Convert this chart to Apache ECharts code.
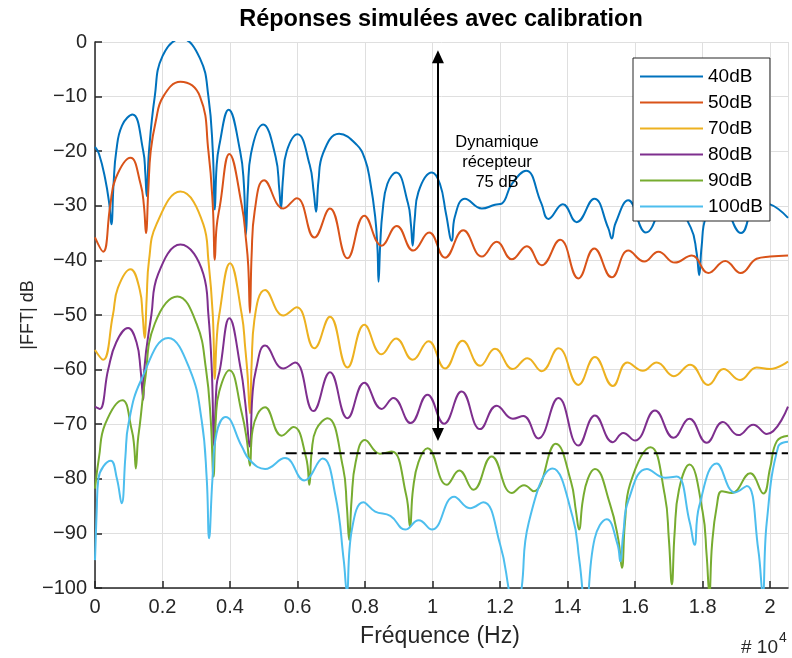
<!DOCTYPE html>
<html><head><meta charset="utf-8">
<script src="https://cdn.jsdelivr.net/npm/echarts@6/dist/echarts.min.js"></script>
<style>html,body{margin:0;padding:0;background:#fff}#c{width:792px;height:658px}</style>
</head><body><div id="c"></div>
<script>
const seriesNames = ['40dB','50dB','70dB','80dB','90dB','100dB'];
const seriesColors = ['#0072BD','#D95319','#EDB120','#7E2F8E','#77AC30','#4DBEEE'];
const xTicks = [0,0.2,0.4,0.6,0.8,1,1.2,1.4,1.6,1.8,2];
const yTicks = [0,-10,-20,-30,-40,-50,-60,-70,-80,-90,-100];

const s40 = [[0,-19.2],[0.012,-20.5],[0.03,-25],[0.042,-29.5],[0.0485,-33.4],[0.055,-26],[0.063,-20],[0.08,-15.3],[0.111,-13.3],[0.143,-20],[0.149,-24],[0.153,-28.2],[0.16,-20],[0.177,-10],[0.2,-2.6],[0.256,0.6],[0.311,-3],[0.336,-10],[0.349,-20],[0.355,-30.7],[0.36,-23],[0.368,-19],[0.396,-12.4],[0.43,-20],[0.441,-26],[0.447,-35.3],[0.453,-27],[0.462,-20.5],[0.498,-15.1],[0.535,-21],[0.546,-27],[0.551,-30.5],[0.557,-25],[0.568,-20],[0.6,-16.9],[0.636,-22.5],[0.648,-27.5],[0.655,-31.1],[0.662,-25.5],[0.675,-20.5],[0.723,-16.8],[0.775,-18.8],[0.8,-21.5],[0.815,-25.5],[0.83,-32],[0.837,-38],[0.84,-43.9],[0.845,-37],[0.852,-31],[0.866,-26],[0.892,-23.9],[0.927,-29.5],[0.936,-33.5],[0.941,-37.3],[0.947,-32.5],[0.958,-27.5],[0.998,-23.9],[1.022,-26],[1.04,-31.5],[1.057,-36.4],[1.066,-32],[1.096,-28.7],[1.146,-30.5],[1.185,-29.8],[1.205,-29.6],[1.235,-26],[1.277,-23.6],[1.322,-29.5],[1.343,-32.4],[1.386,-29.7],[1.427,-33],[1.479,-28.7],[1.52,-34],[1.531,-36],[1.542,-33.2],[1.58,-29],[1.632,-34.9],[1.7,-28.3],[1.765,-34],[1.782,-38.5],[1.79,-42.7],[1.797,-37.5],[1.81,-32],[1.85,-29],[1.914,-35],[1.96,-29.3],[1.995,-29.6],[2.053,-32.2]];

const s50 = [[0,-35.8],[0.024,-38.4],[0.045,-30],[0.061,-25],[0.105,-21.2],[0.135,-26],[0.145,-30],[0.151,-35],[0.158,-27],[0.165,-20],[0.18,-14.5],[0.202,-10],[0.253,-7.3],[0.311,-10],[0.336,-20],[0.349,-30],[0.355,-39.9],[0.36,-34],[0.37,-30],[0.398,-20.5],[0.435,-30],[0.447,-36],[0.454,-41],[0.459,-49.6],[0.464,-39],[0.473,-31],[0.501,-25.3],[0.558,-30.5],[0.598,-28.6],[0.65,-35.8],[0.696,-30.5],[0.748,-39.6],[0.798,-31.8],[0.849,-37.3],[0.894,-33.7],[0.943,-38.2],[0.99,-34.9],[1.037,-39.5],[1.091,-34.5],[1.146,-39.3],[1.19,-36.6],[1.235,-39.8],[1.279,-37.4],[1.323,-40.9],[1.378,-36.2],[1.432,-43.3],[1.479,-37.8],[1.531,-43.1],[1.58,-38.2],[1.627,-40.2],[1.669,-38.4],[1.718,-40.4],[1.768,-39.1],[1.817,-42.3],[1.867,-40.1],[1.913,-42.3],[1.96,-39.7],[2.0,-39.3],[2.053,-39.1]];

const s70 = [[0,-56.4],[0.024,-58.2],[0.053,-50],[0.068,-45],[0.105,-41.6],[0.133,-45.5],[0.141,-50],[0.147,-54.2],[0.153,-47],[0.16,-40],[0.182,-33.4],[0.253,-27.4],[0.321,-33.4],[0.336,-40],[0.349,-50],[0.355,-61.7],[0.36,-55],[0.368,-50],[0.4,-40.5],[0.435,-50],[0.445,-56],[0.452,-61],[0.459,-68],[0.464,-59],[0.472,-51],[0.504,-45.4],[0.558,-50.1],[0.598,-48.6],[0.65,-56.1],[0.696,-50.3],[0.748,-59.6],[0.798,-51.8],[0.849,-57.2],[0.892,-54.3],[0.941,-58.2],[0.988,-54.8],[1.037,-59.8],[1.089,-54.7],[1.141,-59.3],[1.185,-56.2],[1.238,-59.9],[1.281,-57.9],[1.323,-60.3],[1.373,-56.1],[1.432,-62.8],[1.481,-57.7],[1.534,-63],[1.577,-58.7],[1.623,-60.2],[1.664,-58.7],[1.715,-61.2],[1.763,-59.1],[1.817,-62.8],[1.862,-59.9],[1.911,-61.9],[1.96,-59.6],[2.0,-59.9],[2.053,-58.5]];

const s80 = [[0,-66.8],[0.014,-67.2],[0.039,-60],[0.063,-55],[0.098,-52.4],[0.123,-55],[0.135,-60],[0.143,-65.5],[0.146,-60],[0.167,-50],[0.187,-42.5],[0.253,-37.1],[0.321,-42.5],[0.336,-50],[0.346,-60],[0.353,-74],[0.36,-63],[0.37,-60],[0.398,-50.6],[0.432,-60],[0.445,-66],[0.459,-74.1],[0.466,-65],[0.477,-60],[0.504,-55.6],[0.558,-59.8],[0.593,-58.7],[0.647,-67.6],[0.696,-60.5],[0.748,-68.9],[0.798,-62.4],[0.849,-67.2],[0.884,-65.2],[0.935,-69.8],[0.985,-64.6],[1.034,-69.9],[1.086,-64],[1.141,-70.9],[1.19,-66.6],[1.238,-69],[1.269,-68.5],[1.313,-72.6],[1.373,-65.2],[1.432,-73.9],[1.481,-68.4],[1.534,-73.3],[1.565,-71.6],[1.6,-73],[1.659,-67.5],[1.714,-72.5],[1.761,-69],[1.812,-73.4],[1.86,-69.6],[1.906,-72],[1.95,-70.1],[1.99,-71.8],[2.053,-66.8]];

const s90 = [[0,-81.8],[0.012,-76],[0.03,-70],[0.081,-65.6],[0.109,-71.1],[0.116,-74],[0.121,-78.1],[0.127,-73],[0.133,-70],[0.148,-62],[0.177,-51.6],[0.244,-46.6],[0.301,-51.6],[0.329,-60],[0.343,-69.3],[0.351,-79.6],[0.358,-69],[0.368,-64],[0.398,-60.1],[0.435,-68],[0.45,-73],[0.459,-77.6],[0.467,-71],[0.504,-66.9],[0.553,-72.1],[0.588,-70.5],[0.625,-76],[0.635,-81.1],[0.642,-75],[0.655,-71],[0.689,-68.9],[0.735,-78],[0.746,-85],[0.753,-91.2],[0.76,-84],[0.772,-77],[0.8,-72.9],[0.844,-75.4],[0.879,-75],[0.922,-83],[0.933,-88.7],[0.942,-82],[0.958,-77],[0.985,-74.4],[1.042,-81.1],[1.079,-78.5],[1.121,-82],[1.175,-75.9],[1.235,-82.6],[1.271,-81.2],[1.3,-82.3],[1.365,-73.6],[1.41,-80.5],[1.425,-86],[1.434,-89.3],[1.445,-84],[1.46,-80],[1.481,-78.2],[1.525,-84.5],[1.55,-91],[1.561,-96.3],[1.57,-88],[1.585,-81],[1.646,-74.2],[1.688,-83],[1.7,-91],[1.709,-99.3],[1.717,-90],[1.73,-82],[1.761,-77.4],[1.8,-86],[1.812,-94],[1.82,-101],[1.828,-92],[1.842,-85],[1.857,-82.3],[1.886,-82.6],[1.941,-79],[1.98,-82.7],[2.0,-78],[2.02,-73.1],[2.053,-72.1]];

const s100 = [[0,-94.9],[0.005,-86],[0.01,-80],[0.047,-76.7],[0.065,-80],[0.079,-84.5],[0.09,-76],[0.099,-70],[0.136,-62],[0.217,-54.2],[0.281,-60],[0.316,-69.3],[0.331,-80],[0.338,-90.9],[0.348,-80],[0.36,-71.7],[0.387,-68.7],[0.435,-74.1],[0.459,-76.6],[0.504,-78.2],[0.563,-76.2],[0.62,-80.3],[0.674,-76.3],[0.712,-83],[0.737,-95],[0.746,-100.5],[0.761,-89.3],[0.795,-84.3],[0.83,-86],[0.875,-86.8],[0.919,-89.3],[0.959,-87.6],[0.998,-89.3],[1.064,-83.3],[1.111,-85.4],[1.15,-84.3],[1.2,-92],[1.225,-100],[1.245,-108],[1.264,-100],[1.285,-88],[1.356,-78.1],[1.415,-87],[1.435,-95],[1.454,-104],[1.48,-91],[1.516,-87.4],[1.548,-92],[1.556,-95.1],[1.565,-90],[1.58,-84],[1.635,-78.2],[1.689,-79.8],[1.723,-79.6],[1.762,-88],[1.776,-92.1],[1.79,-85],[1.842,-77.2],[1.896,-82.5],[1.931,-81.3],[1.965,-93],[1.978,-101],[1.99,-88],[2.024,-74.1],[2.053,-73.2]];

const curves = [s40, s50, s70, s80, s90, s100];
const dynamicArrow = {x: 1.016, top: -2.7, bottom: -71.9};
const floorLine = [[0.565, -75.3], [2.053, -75.3]];
const annotationText = 'Dynamique\nrécepteur\n75 dB';

const FONT = '"Liberation Sans", Arial, Helvetica, sans-serif';
const AX = '#262626';

const series = curves.map((d, i) => ({
  name: seriesNames[i], type: 'line', data: d, symbol: 'none', smooth: 0.45,
  lineStyle: {width: 2, color: seriesColors[i]}, itemStyle: {color: seriesColors[i]},
  clip: true, z: 3
}));
series.push({
  name: 'floor', type: 'line', data: floorLine, symbol: 'none', silent: true,
  lineStyle: {color: '#000', width: 2, type: [11, 5]}, z: 4
});
series.push({
  name: 'arrow', type: 'line', data: [], silent: true, z: 5,
  markLine: {
    silent: true, symbol: ['triangle', 'triangle'], symbolSize: [12, 13],
    lineStyle: {color: '#000', width: 2, type: 'solid'},
    itemStyle: {color: '#000'},
    label: {show: false}, emphasis: {disabled: true},
    data: [[{coord: [dynamicArrow.x, dynamicArrow.top]}, {coord: [dynamicArrow.x, dynamicArrow.bottom]}]]
  }
});

const chart = echarts.init(document.getElementById('c'), null, {renderer: 'canvas'});
chart.setOption({
  animation: false,
  backgroundColor: '#fff',
  grid: {left: 95, right: 4, top: 42, bottom: 70, containLabel: false},
  xAxis: {
    type: 'value', min: 0, max: 2.053, interval: 0.2,
    axisLine: {show: true, onZero: false, lineStyle: {color: AX, width: 1.5}},
    axisTick: {show: true, inside: true, length: 7, lineStyle: {color: AX, width: 1.5}},
    axisLabel: {color: AX, fontSize: 20, fontFamily: FONT, margin: 9, showMaxLabel: false,
      formatter: v => xTicks.some(t => Math.abs(t - v) < 1e-6) ? String(+v.toFixed(1)) : ''},
    splitLine: {show: true, lineStyle: {color: '#dfdfdf', width: 1}}
  },
  yAxis: {
    type: 'value', min: -100, max: 0, interval: 10,
    axisLine: {show: true, onZero: false, lineStyle: {color: AX, width: 1.5}},
    axisTick: {show: true, inside: true, length: 7, lineStyle: {color: AX, width: 1.5}},
    axisLabel: {color: AX, fontSize: 20, fontFamily: FONT, margin: 8,
      formatter: v => yTicks.includes(Math.round(v)) ? String(Math.round(v)).replace('-', '\u2212') : ''},
    splitLine: {show: true, lineStyle: {color: '#dfdfdf', width: 1}}
  },
  legend: {
    data: seriesNames, orient: 'vertical', left: 633, top: 58,
    icon: 'path://M0,0h63v2h-63z',
    itemWidth: 63, itemHeight: 20, itemGap: 7,
    padding: [9, 7, 5, 7],
    backgroundColor: '#fff', borderColor: AX, borderWidth: 1,
    textStyle: {fontSize: 19, fontFamily: FONT, color: '#000'},
    selectedMode: false
  },
  series: series,
  graphic: [
    {type: 'text', x: 441, y: 20, silent: true, style: {text: 'Réponses simulées avec calibration', fontSize: 23.5, fontWeight: 'bold', fontFamily: FONT, fill: '#000', align: 'center', verticalAlign: 'middle'}},
    {type: 'text', x: 440, y: 637, silent: true, style: {text: 'Fréquence (Hz)', fontSize: 23, fontFamily: FONT, fill: AX, align: 'center', verticalAlign: 'middle'}},
    {type: 'text', x: 28, y: 315, rotation: Math.PI / 2, silent: true, style: {text: '|FFT| dB', fontSize: 18, fontFamily: FONT, fill: AX, align: 'center', verticalAlign: 'middle'}},
    {type: 'text', x: 778, y: 648, silent: true, style: {text: '# 10', fontSize: 19, fontFamily: FONT, fill: AX, align: 'right', verticalAlign: 'middle'}},
    {type: 'text', x: 779, y: 638, silent: true, style: {text: '4', fontSize: 14, fontFamily: FONT, fill: AX, align: 'left', verticalAlign: 'middle'}},
    {type: 'text', x: 497, y: 162, silent: true, z: 10, style: {text: annotationText, fontSize: 16.5, lineHeight: 20, fontFamily: FONT, fill: '#000', align: 'center', verticalAlign: 'middle'}}
  ]
});
</script></body></html>
